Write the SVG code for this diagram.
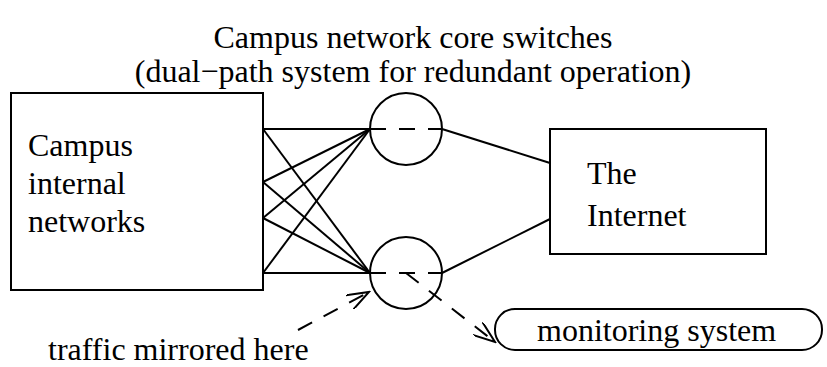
<svg xmlns="http://www.w3.org/2000/svg" width="827" height="367" viewBox="0 0 827 367">
<defs>
<style>
text{font-family:"Liberation Serif","Times New Roman",serif;font-size:32px;fill:#000}
.s{fill:none;stroke:#000;stroke-width:2}
.d{fill:none;stroke:#000;stroke-width:2;stroke-dasharray:16,13}
</style>
<marker id="ah" markerWidth="24" markerHeight="16" refX="22" refY="8" orient="auto" markerUnits="userSpaceOnUse">
<path d="M0,0 L22,8 L0,16" fill="none" stroke="#000" stroke-width="2"/>
</marker>
</defs>
<rect width="827" height="367" fill="#fff"/>
<g id="title">
<text x="413" y="48" text-anchor="middle">Campus network core switches</text>
<text x="413" y="82" text-anchor="middle">(dual−path system for redundant operation)</text>
</g>
<g id="connectors">
<line class="s" x1="263" y1="129" x2="370" y2="129"/>
<line class="s" x1="263" y1="129" x2="370" y2="273"/>
<line class="s" x1="263" y1="182" x2="370" y2="129"/>
<line class="s" x1="263" y1="182" x2="370" y2="273"/>
<line class="s" x1="263" y1="218" x2="370" y2="129"/>
<line class="s" x1="263" y1="218" x2="370" y2="273"/>
<line class="s" x1="263" y1="273" x2="370" y2="129"/>
<line class="s" x1="263" y1="273" x2="370" y2="273"/>
<line class="d" x1="370" y1="129" x2="442" y2="129"/>
<line class="d" x1="370" y1="273" x2="442" y2="273"/>
<line class="s" x1="442" y1="129" x2="550" y2="163"/>
<line class="s" x1="442" y1="273" x2="550" y2="219"/>
<line class="d" x1="406" y1="273" x2="495" y2="342" marker-end="url(#ah)"/>
<line class="d" x1="298" y1="330" x2="369" y2="292" marker-end="url(#ah)"/>
</g>
<g id="campus">
<rect class="s" x="11" y="93" width="252" height="197"/>
<text x="28" y="156">Campus</text>
<text x="28" y="194">internal</text>
<text x="28" y="232">networks</text>
</g>
<g id="switch1"><circle class="s" cx="406" cy="129" r="36"/></g>
<g id="switch2"><circle class="s" cx="406" cy="273" r="36"/></g>
<g id="internet">
<rect class="s" x="550" y="129" width="216" height="125"/>
<text x="587" y="184">The</text>
<text x="587" y="226">Internet</text>
</g>
<g id="monitor">
<rect class="s" x="495" y="309" width="327" height="41" rx="20" ry="20"/>
<text x="537" y="341">monitoring system</text>
</g>
<g id="note">
<text x="48" y="360">traffic mirrored here</text>
</g>
</svg>
